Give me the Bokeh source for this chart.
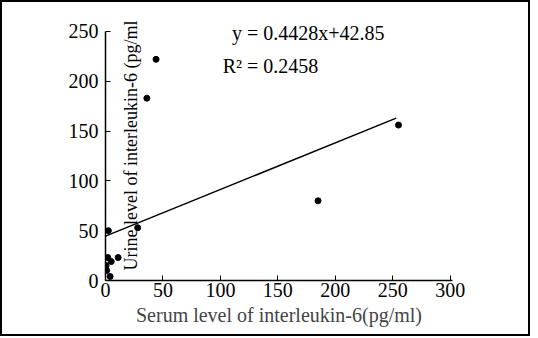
import math
from bokeh.plotting import figure
from bokeh.models import Label, FixedTicker
from bokeh.embed import file_html
from bokeh.resources import INLINE

# data
serum = [44, 36, 255, 185, 2.5, 11, 2, 5, 0.5, 1, 4, 28]
urine = [222, 183, 156, 80, 50, 23, 23, 19, 15, 10, 4, 53]
# fitted line as drawn in the picture (y = 0.4428x + 42.85)
fit_x = [0, 253]
fit_y = [44.5, 163]
x_ticks = [0, 50, 100, 150, 200, 250, 300]
y_ticks = [0, 50, 100, 150, 200, 250]
eq_text = "y = 0.4428x+42.85"
r2_text = "R\u00b2 = 0.2458"
x_title = "Serum level of interleukin-6(pg/ml)"
y_title = "Urine level of interleukin-6 (pg/ml"

FONT = "Liberation Serif"

p = figure(width=530, height=336, output_backend="svg", toolbar_location=None,
           x_range=(0, 302), y_range=(0, 271),
           min_border_left=103, min_border_right=80, min_border_top=8, min_border_bottom=58)
p.styles = {"border": "2px solid black", "box-sizing": "border-box"}
p.outline_line_color = None
p.xgrid.visible = False
p.ygrid.visible = False

for ax in (p.xaxis[0], p.yaxis[0]):
    ax.major_label_text_font = FONT
    ax.major_label_text_font_size = "20px"
    ax.major_label_text_color = "black"
    ax.axis_line_color = "black"
    ax.axis_line_width = 1.5
    ax.major_tick_line_color = "black"
    ax.major_tick_in = 5
    ax.major_tick_out = 0
    ax.minor_tick_line_color = None

p.xaxis.major_label_standoff = 2
p.yaxis.major_label_standoff = 7
p.xaxis.ticker = FixedTicker(ticks=x_ticks)
p.yaxis.ticker = FixedTicker(ticks=y_ticks)
p.yaxis.bounds = (0, 250)
p.xaxis.axis_label = x_title
p.xaxis.axis_label_text_font = FONT
p.xaxis.axis_label_text_font_size = "20px"
p.xaxis.axis_label_text_font_style = "normal"
p.xaxis.axis_label_standoff = 4

p.line(fit_x, fit_y, line_color="black", line_width=1.5)
p.scatter(serum, urine, size=6, color="black")

p.add_layout(Label(x=22, y=10, text=y_title, angle=math.pi / 2,
                   text_align="left", text_baseline="middle",
                   text_font=FONT, text_font_size="18px", text_color="black"))
p.add_layout(Label(x=110, y=248, text=eq_text, text_align="left", text_baseline="middle",
                   text_font=FONT, text_font_size="20px", text_color="black"))
p.add_layout(Label(x=102, y=215, text=r2_text, text_align="left", text_baseline="middle",
                   text_font=FONT, text_font_size="20px", text_color="black"))

open("out.html", "w").write(file_html(p, INLINE))
